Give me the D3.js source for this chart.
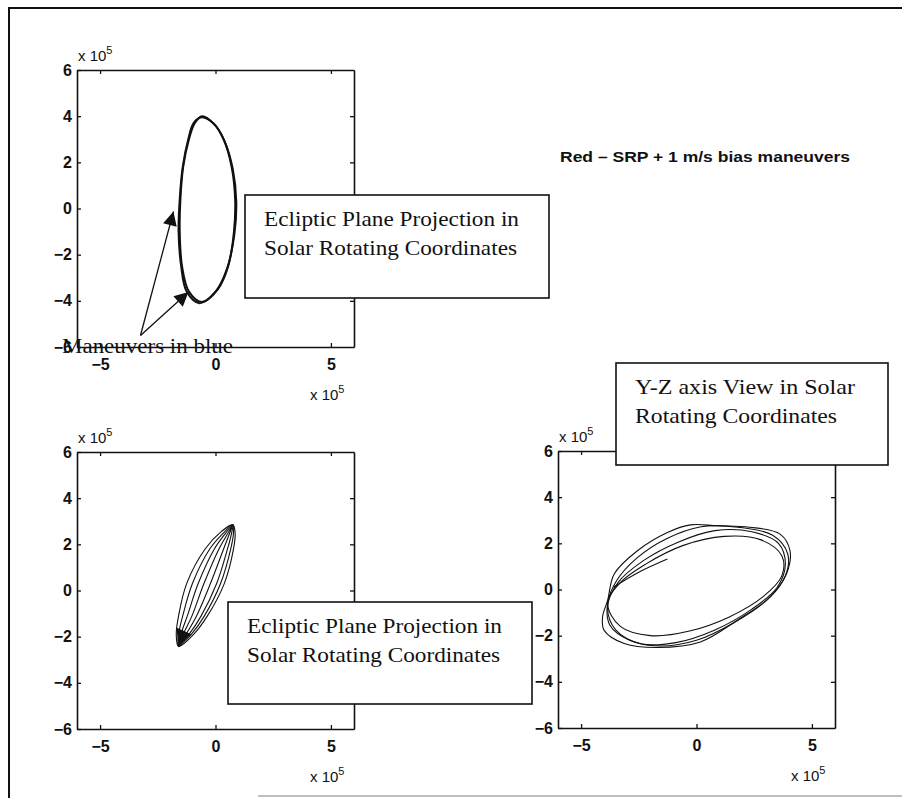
<!DOCTYPE html>
<meta charset="utf-8">
<html>
  <head>
    <script src="https://cdn.jsdelivr.net/npm/d3@7"></script>
    <style>
      body { margin: 0; background: white; }
      .serif { font-family: "Liberation Serif", "Times New Roman", serif; font-size: 21px; fill: #111; }
      .sans { font-family: "Liberation Sans", Arial, sans-serif; fill: #111; }
    </style>
  </head>
  <body>
    <div id="chart"></div>
    <script>
      // axis ticks (units of 10^5)
      const xTicks = [-5, 0, 5];
      const yTicks = [-6, -4, -2, 0, 2, 4, 6];
      const axisDomain = [-6, 6];

      // top panel: ecliptic plane projection, two nearly coincident passes
      const eclipticLoopA = [[-0.58, 4.0], [-0.1, 3.7], [0.35, 3.0], [0.7, 1.8], [0.85, 0.4], [0.8, -1.0], [0.55, -2.5], [0.1, -3.5],
        [-0.6, -4.05], [-1.15, -3.6], [-1.45, -2.5], [-1.55, -1.0], [-1.52, 0.4], [-1.4, 1.8], [-1.15, 3.0], [-0.9, 3.7]];
      const eclipticLoopB = [[-0.6, 3.95], [-0.05, 3.65], [0.4, 2.9], [0.75, 1.7], [0.9, 0.3], [0.82, -1.1], [0.5, -2.6], [0.0, -3.6],
        [-0.7, -4.1], [-1.25, -3.6], [-1.5, -2.4], [-1.6, -1.0], [-1.55, 0.4], [-1.42, 1.8], [-1.18, 3.0], [-0.95, 3.7]];

      // bottom-left panel: narrow lens-shaped loops sharing their tips
      const lensLoop1 = [[0.75, 2.85], [0.25, 2.55], [-0.45, 1.8], [-1.25, 0.3], [-1.6, -1.1], [-1.7, -1.9], [-1.6, -2.42],
        [-0.95, -1.9], [-0.35, -1.1], [0.38, 0.3], [0.78, 1.8], [0.85, 2.5]];
      const lensLoop2 = [[0.75, 2.85], [0.35, 2.5], [-0.25, 1.8], [-1.0, 0.3], [-1.42, -1.1], [-1.6, -1.9], [-1.6, -2.42],
        [-1.05, -1.9], [-0.48, -1.1], [0.22, 0.3], [0.66, 1.8], [0.78, 2.5]];
      const lensLoop3 = [[0.75, 2.85], [0.45, 2.5], [-0.05, 1.8], [-0.75, 0.3], [-1.22, -1.1], [-1.5, -1.9], [-1.6, -2.42],
        [-1.15, -1.9], [-0.62, -1.1], [0.05, 0.3], [0.52, 1.8], [0.7, 2.5]];
      const lensLoop4 = [[0.75, 2.85], [0.55, 2.5], [0.15, 1.8], [-0.5, 0.3], [-1.02, -1.1], [-1.4, -1.9], [-1.6, -2.42],
        [-1.28, -1.9], [-0.82, -1.1], [-0.22, 0.3], [0.35, 1.8], [0.62, 2.5]];

      // bottom-right panel: Y-Z view loops
      const yzLoopA = [[-0.26, 2.8], [0.9, 2.76], [2.3, 2.7], [3.62, 2.4], [4.05, 1.68], [3.9, 0.68], [3.19, -0.33], [1.75, -1.34],
        [0.17, -2.27], [-1.7, -2.51], [-3.13, -2.34], [-4.0, -1.77], [-4.07, -1.19], [-3.85, -0.47], [-3.56, 0.68], [-2.56, 1.68], [-1.26, 2.47]];
      const yzLoopB = [[0.2, 2.72], [1.8, 2.7], [3.3, 2.35], [3.95, 1.55], [3.85, 0.6], [3.05, -0.45], [1.6, -1.45], [0.0, -2.2],
        [-1.6, -2.45], [-2.9, -2.2], [-3.75, -1.55], [-3.85, -0.6], [-3.45, 0.4], [-2.6, 1.35], [-1.3, 2.2]];
      const yzLoopC = [[0.8, 2.55], [2.4, 2.5], [3.55, 2.0], [3.85, 1.1], [3.5, 0.1], [2.4, -0.85], [0.8, -1.75], [-0.9, -2.3],
        [-2.4, -2.35], [-3.5, -1.75], [-3.85, -0.75], [-3.4, 0.3], [-2.3, 1.25], [-0.8, 2.05]];
      const yzLoopD = [[1.2, 2.3], [2.8, 2.15], [3.7, 1.45], [3.7, 0.6], [2.9, -0.3], [1.4, -1.2], [-0.3, -1.8], [-2.0, -2.0],
        [-3.3, -1.6], [-3.85, -0.6], [-3.3, 0.3], [-2.2, 1.1], [-0.6, 1.9]];
      const yzStart = [[-3.6, 0.1], [-2.5, 0.75], [-1.26, 1.32]];

      // annotation arrows (data units of the top panel)
      const arrowFrom = [-3.25, -5.5];
      const arrowTips = [[-1.82, -0.13], [-1.17, -3.62]];

      const boxTitles = {
        ecliptic: ["Ecliptic Plane Projection in", "Solar Rotating Coordinates"],
        yz: ["Y-Z axis View in Solar", "Rotating Coordinates"]
      };
      const legendNote = "Red \u2013 SRP + 1 m/s bias maneuvers";
      const maneuverNote = "Maneuvers in blue";

      const width = 902, height = 798;
      const svg = d3.select("#chart").append("svg")
        .attr("width", width)
        .attr("height", height);

      // page frame
      svg.append("path")
        .attr("d", "M9,798V8H902")
        .attr("fill", "none")
        .attr("stroke", "#111")
        .attr("stroke-width", 2);
      svg.append("line")
        .attr("x1", 258).attr("x2", 902).attr("y1", 796).attr("y2", 796)
        .attr("stroke", "#aaa").attr("stroke-width", 1.5);

      const panels = [
        {left: 77, top: 70, size: 277},
        {left: 77, top: 452, size: 277},
        {left: 558, top: 451, size: 277}
      ];

      function drawPanel(p) {
        const x = d3.scaleLinear().domain(axisDomain).range([p.left, p.left + p.size]);
        const y = d3.scaleLinear().domain(axisDomain).range([p.top + p.size, p.top]);
        const g = svg.append("g");

        const styleAxis = (sel) => {
          sel.attr("font-size", 16).attr("font-family", "'Liberation Sans', Arial, sans-serif").attr("font-weight", "bold");
          sel.select(".domain").attr("stroke", "#111").attr("stroke-width", 1.6);
          sel.selectAll(".tick line").attr("stroke", "#111").attr("stroke-width", 1.3);
          sel.selectAll(".tick text").attr("fill", "#111");
        };

        g.append("g").attr("transform", `translate(0,${p.top + p.size})`)
          .call(d3.axisBottom(x).tickValues(xTicks).tickSize(-4).tickSizeOuter(0).tickPadding(12))
          .call(styleAxis);
        g.append("g").attr("transform", `translate(${p.left},0)`)
          .call(d3.axisLeft(y).tickValues(yTicks).tickSize(-4).tickSizeOuter(0).tickPadding(5))
          .call(styleAxis);
        g.append("g").attr("transform", `translate(0,${p.top})`)
          .call(d3.axisTop(x).tickValues(xTicks).tickSize(-4).tickSizeOuter(0).tickFormat(""))
          .call(styleAxis);
        g.append("g").attr("transform", `translate(${p.left + p.size},0)`)
          .call(d3.axisRight(y).tickValues(yTicks.slice(1, -1)).tickSize(-4).tickSizeOuter(0).tickFormat(""))
          .call(styleAxis);

        // exponent labels
        const expLabel = (tx, ty) => {
          const t = g.append("text").attr("class", "sans")
            .attr("x", tx).attr("y", ty).attr("font-size", 15);
          t.append("tspan").text("x 10");
          t.append("tspan").attr("font-size", 11).attr("dy", -7).text("5");
        };
        expLabel(p.left + 1, p.top - 9);
        expLabel(p.left + p.size - 44, p.top + p.size + 53);

        return {x, y, g};
      }

      function drawLoops(axes, loops, widthPx) {
        const line = d3.line()
          .x((d) => axes.x(d[0]))
          .y((d) => axes.y(d[1]))
          .curve(d3.curveCatmullRomClosed.alpha(0.5));
        axes.g.selectAll(null)
          .data(loops)
          .join("path")
          .attr("d", line)
          .attr("fill", "none")
          .attr("stroke", "#111")
          .attr("stroke-width", widthPx);
      }

      const topPanel = drawPanel(panels[0]);
      const lowLeft = drawPanel(panels[1]);
      const lowRight = drawPanel(panels[2]);

      drawLoops(topPanel, [eclipticLoopA, eclipticLoopB], 2);
      drawLoops(lowLeft, [lensLoop1, lensLoop2, lensLoop3, lensLoop4], 1.1);
      drawLoops(lowRight, [yzLoopA, yzLoopB, yzLoopC, yzLoopD], 1.1);
      lowRight.g.append("path")
        .attr("d", d3.line().x((d) => lowRight.x(d[0])).y((d) => lowRight.y(d[1])).curve(d3.curveCatmullRom)(yzStart))
        .attr("fill", "none").attr("stroke", "#111").attr("stroke-width", 1.1);

      // heavier bottom tip of the lens
      lowLeft.g.append("path")
        .attr("d", d3.line().x((d) => lowLeft.x(d[0])).y((d) => lowLeft.y(d[1]))([[-1.6, -2.42], [-1.7, -1.6], [-1.05, -1.9]]))
        .attr("fill", "#111");

      // arrows
      svg.append("defs").append("marker")
        .attr("id", "head")
        .attr("viewBox", "0 0 10 10")
        .attr("refX", 10).attr("refY", 5)
        .attr("markerWidth", 16).attr("markerHeight", 14)
        .attr("markerUnits", "userSpaceOnUse")
        .attr("orient", "auto")
        .append("path").attr("d", "M0,0L10,5L0,10Z").attr("fill", "#111");

      svg.selectAll(".arrow")
        .data(arrowTips)
        .join("line")
        .attr("class", "arrow")
        .attr("x1", topPanel.x(arrowFrom[0])).attr("y1", topPanel.y(arrowFrom[1]))
        .attr("x2", (d) => topPanel.x(d[0])).attr("y2", (d) => topPanel.y(d[1]))
        .attr("stroke", "#111").attr("stroke-width", 1.3)
        .attr("marker-end", "url(#head)");

      svg.append("text").attr("class", "serif")
        .attr("x", 62).attr("y", 353)
        .attr("textLength", 171).attr("lengthAdjust", "spacingAndGlyphs")
        .text(maneuverNote);

      svg.append("text").attr("class", "sans")
        .attr("x", 560).attr("y", 162)
        .attr("font-size", 15).attr("font-weight", "bold")
        .attr("textLength", 290).attr("lengthAdjust", "spacingAndGlyphs")
        .text(legendNote);

      // text boxes
      const boxes = [
        {x: 245, y: 195, w: 304, h: 103, lines: boxTitles.ecliptic, lens: [255, 253]},
        {x: 228, y: 602, w: 304, h: 102, lines: boxTitles.ecliptic, lens: [255, 253]},
        {x: 616, y: 363, w: 272, h: 102, lines: boxTitles.yz, lens: [220, 202]}
      ];
      boxes.forEach((b) => {
        svg.append("rect")
          .attr("x", b.x).attr("y", b.y).attr("width", b.w).attr("height", b.h)
          .attr("fill", "white").attr("stroke", "#111").attr("stroke-width", 1.6);
        b.lines.forEach((t, i) => {
          svg.append("text").attr("class", "serif")
            .attr("x", b.x + 19).attr("y", b.y + 31 + i * 29)
            .attr("textLength", b.lens[i]).attr("lengthAdjust", "spacingAndGlyphs")
            .text(t);
        });
      });
    </script>
  </body>
</html>
